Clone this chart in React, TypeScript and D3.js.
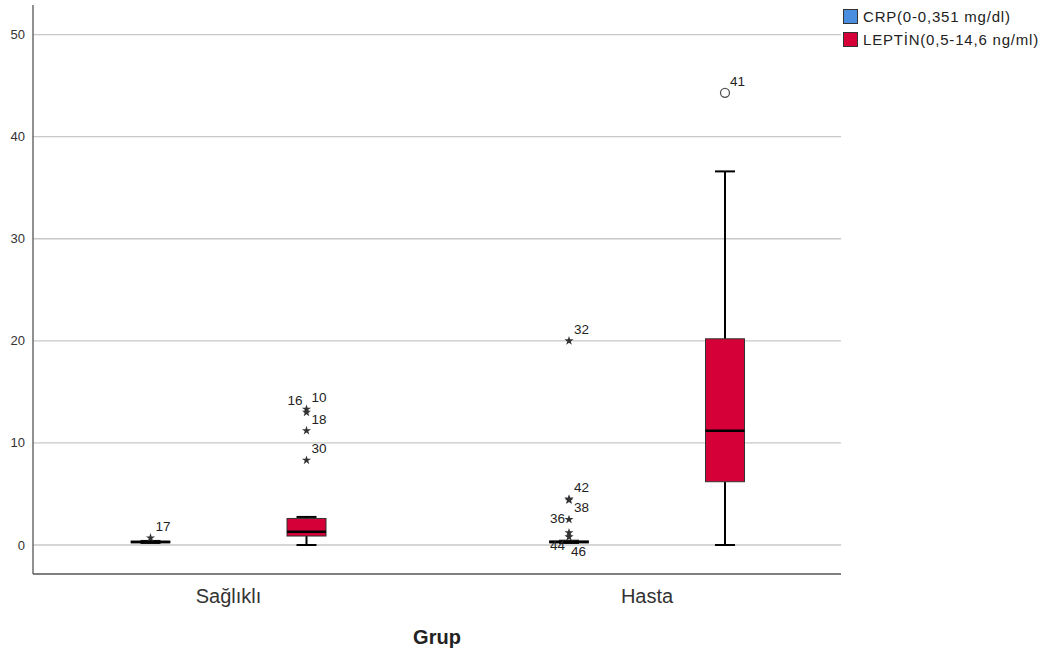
import React from "react";
import * as d3 from "d3";

const groups = ["Sağlıklı", "Hasta"];
const seriesNames = ["CRP(0-0,351 mg/dl)", "LEPTİN(0,5-14,6 ng/ml)"];
const seriesColors = ["#4a8ee0", "#d50037"];
const yTicks = [0, 10, 20, 30, 40, 50];

// [group, series, lowWhisker, q1, median, q3, highWhisker]
const boxStats: [string, number, number, number, number, number, number][] = [
  ["Sağlıklı", 0, 0.2, 0.22, 0.3, 0.38, 0.4],
  ["Sağlıklı", 1, 0, 0.88, 1.3, 2.6, 2.75],
  ["Hasta", 0, 0.2, 0.22, 0.3, 0.4, 0.42],
  ["Hasta", 1, 0, 6.2, 11.2, 20.2, 36.6],
];

// [group, series, value, label, kind ("star"|"circle"), label side]
const outliers: [string, number, number, string, string, string][] = [
  ["Sağlıklı", 0, 0.7, "17", "star", "ur"],
  ["Sağlıklı", 1, 13.3, "10", "star", "ur"],
  ["Sağlıklı", 1, 13.0, "16", "star", "ul"],
  ["Sağlıklı", 1, 11.2, "18", "star", "ur"],
  ["Sağlıklı", 1, 8.3, "30", "star", "ur"],
  ["Hasta", 0, 20.0, "32", "star", "ur"],
  ["Hasta", 0, 4.5, "42", "star", "ur"],
  ["Hasta", 0, 4.4, "38", "star", "r"],
  ["Hasta", 0, 2.5, "36", "star", "l"],
  ["Hasta", 0, 1.2, "44", "star", "ll"],
  ["Hasta", 0, 0.8, "46", "star", "lr"],
  ["Hasta", 1, 44.3, "41", "circle", "ur"],
];

const W = 1051;
const H = 653;
const plotLeft = 33;
const plotRight = 841;
const plotTop = 5;
const plotBottom = 574;

export default function App() {
  const x = d3.scalePoint<string>().domain(groups).range([228.5, 647]);
  const sub = d3.scalePoint<number>().domain([0, 1]).range([-78, 78]);
  const y = d3.scaleLinear().domain([-2.84, 52.9]).range([plotBottom, plotTop]);
  const boxW = 39;
  const capW = 20;
  const star = d3.symbol().type(d3.symbolStar).size(26)() as string;
  const font = "Arial, 'Liberation Sans', sans-serif";

  const labelPos = (side: string) => {
    switch (side) {
      case "ur": return { dx: 5, dy: -7, anchor: "start" };
      case "ul": return { dx: -4, dy: -7, anchor: "end" };
      case "r": return { dx: 5, dy: 12, anchor: "start" };
      case "l": return { dx: -4, dy: 4, anchor: "end" };
      case "ll": return { dx: -4, dy: 17, anchor: "end" };
      case "lr": return { dx: 2, dy: 19, anchor: "start" };
      default: return { dx: 5, dy: -7, anchor: "start" };
    }
  };

  return (
    <svg width={W} height={H} style={{ position: "absolute", left: 0, top: 0, background: "#fff" }} fontFamily={font}>
      <rect width={W} height={H} fill="#fff" />
      {yTicks.map((t) => (
        <g key={t}>
          <line x1={plotLeft} x2={plotRight} y1={y(t)} y2={y(t)} stroke="#c8c8c8" strokeWidth={1.3} />
          <text x={25} y={y(t) + 4.5} textAnchor="end" fontSize={13} fill="#333">{t}</text>
        </g>
      ))}
      <line x1={plotLeft} x2={plotLeft} y1={plotTop} y2={plotBottom} stroke="#555" strokeWidth={1.3} />
      <line x1={plotLeft} x2={plotRight} y1={plotBottom} y2={plotBottom} stroke="#555" strokeWidth={1.3} />
      {groups.map((g) => (
        <text key={g} x={x(g)!} y={603} textAnchor="middle" fontSize={20} fill="#333">{g}</text>
      ))}
      <text x={437} y={644} textAnchor="middle" fontSize={20} fontWeight="bold" fill="#222">Grup</text>

      {boxStats.map(([g, s, lo, q1, med, q3, hi], i) => {
        const cx = x(g)! + sub(s)!;
        return (
          <g key={i}>
            <line x1={cx} x2={cx} y1={y(hi)} y2={y(q3)} stroke="#000" strokeWidth={2} />
            <line x1={cx} x2={cx} y1={y(q1)} y2={y(lo)} stroke="#000" strokeWidth={2} />
            <line x1={cx - capW / 2} x2={cx + capW / 2} y1={y(hi)} y2={y(hi)} stroke="#000" strokeWidth={2} />
            <line x1={cx - capW / 2} x2={cx + capW / 2} y1={y(lo)} y2={y(lo)} stroke="#000" strokeWidth={2} />
            <rect x={cx - boxW / 2} y={y(q3)} width={boxW} height={Math.max(y(q1) - y(q3), 0.5)} fill={seriesColors[s]} stroke="#333" strokeWidth={1} />
            <line x1={cx - boxW / 2} x2={cx + boxW / 2} y1={y(med)} y2={y(med)} stroke="#000" strokeWidth={2.5} />
          </g>
        );
      })}

      {outliers.map(([g, s, v, lab, kind, side], i) => {
        const cx = x(g)! + sub(s)!;
        const cy = y(v);
        const p = labelPos(side);
        return (
          <g key={i}>
            {kind === "star" ? (
              <path d={star} transform={`translate(${cx},${cy})`} fill="#333" />
            ) : (
              <circle cx={cx} cy={cy} r={4.5} fill="#fff" stroke="#555" strokeWidth={1.3} />
            )}
            <text x={cx + p.dx} y={cy + p.dy} textAnchor={p.anchor as any} fontSize={13.5} fill="#222">{lab}</text>
          </g>
        );
      })}

      {seriesNames.map((n, i) => (
        <g key={n} transform={`translate(843,${9 + i * 23})`}>
          <rect x={0.5} y={0.5} width={14} height={14} fill={seriesColors[i]} stroke="#333" strokeWidth={1} />
          <text x={20} y={13} fontSize={15} letterSpacing={0.8} fill="#222">{n}</text>
        </g>
      ))}
    </svg>
  );
}
